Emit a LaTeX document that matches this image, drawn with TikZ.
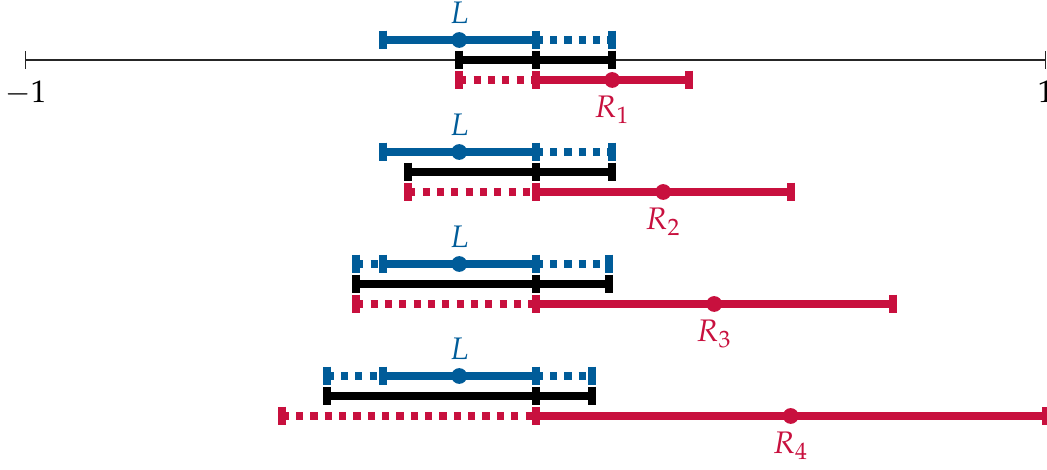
\documentclass[tikz,border=0pt]{standalone}
\usepackage{mathpazo}
\definecolor{lblue}{RGB}{0,92,153}
\definecolor{rred}{RGB}{200,16,62}
\tikzset{
  axisline/.style={line width=0.4pt, draw=black!85},
  seg/.style={line width=2.2pt},
  ext/.style={line width=2.2pt, dash pattern=on 2pt off 2pt},
  ctr/.style={circle, fill, inner sep=0pt, minimum size=4.4pt},
  lab/.style={anchor=base, inner sep=0pt, font=\fontsize{8.7pt}{10pt}\selectfont},
}
% short vertical bar marking an interval end
\newcommand\barat[2]{\draw[line width=2.2pt,#2] (#1) ++(0,2.6pt) -- ++(0,-5.2pt);}
\begin{document}
\begin{tikzpicture}[x=5cm,y=1cm]
\useasboundingbox (-1.0504,0.588) rectangle (1.0025,-4.010);

% number line
\coordinate (m1) at (-1,0);
\coordinate (p1) at (1,0);
\draw[axisline] (m1) -- (p1);
\draw[axisline] (m1) ++(0,2.5pt) -- ++(0,-5pt);
\draw[axisline] (p1) ++(0,2.5pt) -- ++(0,-5pt);
\node[lab, yshift=-11.8pt] (tm1) at (m1) {$-1$};
\node[lab, yshift=-11.8pt] (tp1) at (p1) {$1$};

% rows: index / level / blue left / blue right / black left / black right / red left / red right
\foreach \i/\y/\bl/\br/\kl/\kr/\rl/\rr in {
  1/0/-0.3/0.15/-0.15/0.15/-0.15/0.3,
  2/-1.098/-0.3/0.15/-0.25/0.15/-0.25/0.5,
  3/-2.196/-0.352/0.144/-0.352/0.144/-0.352/0.7,
  4/-3.294/-0.41/0.11/-0.41/0.11/-0.498/1.0}{
  % blue interval L
  \coordinate (bx\i) at (\bl,{\y+0.196});
  \coordinate (ba\i) at (-0.3,{\y+0.196});
  \coordinate (bc\i) at (-0.15,{\y+0.196});
  \coordinate (bb\i) at (0,{\y+0.196});
  \coordinate (by\i) at (\br,{\y+0.196});
  \draw[ext,lblue] (bx\i) -- (ba\i);
  \draw[ext,lblue] (bb\i) -- (by\i);
  \draw[seg,lblue] (ba\i) -- (bb\i);
  \barat{bx\i}{lblue}
  \barat{ba\i}{lblue}
  \barat{bb\i}{lblue}
  \barat{by\i}{lblue}
  \node[ctr,lblue] (Lc\i) at (bc\i) {};
  \node[lab,lblue,yshift=4.6pt] (Ll\i) at (bc\i) {$L$};
  % black hull
  \coordinate (kx\i) at (\kl,\y);
  \coordinate (k0\i) at (0,\y);
  \coordinate (ky\i) at (\kr,\y);
  \draw[seg,black] (kx\i) -- (ky\i);
  \barat{kx\i}{black}
  \barat{k0\i}{black}
  \barat{ky\i}{black}
  % red interval R_i
  \coordinate (rx\i) at (\rl,{\y-0.196});
  \coordinate (ra\i) at (0,{\y-0.196});
  \coordinate (rc\i) at ({\rr/2},{\y-0.196});
  \coordinate (rb\i) at (\rr,{\y-0.196});
  \draw[ext,rred] (rx\i) -- (ra\i);
  \draw[seg,rred] (ra\i) -- (rb\i);
  \barat{rx\i}{rred}
  \barat{ra\i}{rred}
  \barat{rb\i}{rred}
  \node[ctr,rred] (Rc\i) at (rc\i) {};
  \node[lab,rred,yshift=-10.6pt] (Rl\i) at (rc\i) {$R_{\i}$};
}
\end{tikzpicture}
\end{document}
